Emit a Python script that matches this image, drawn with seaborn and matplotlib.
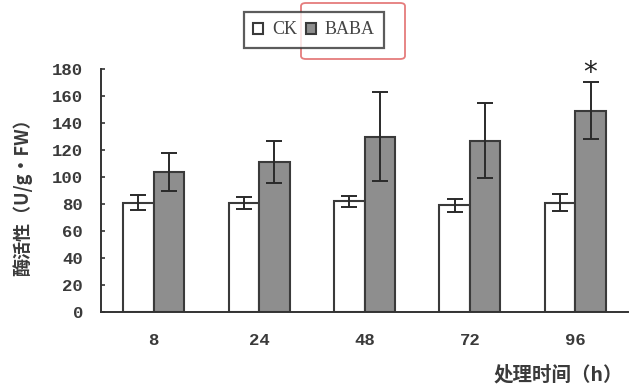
import matplotlib
matplotlib.use("Agg")
import matplotlib.pyplot as plt
from matplotlib.patches import FancyBboxPatch, Patch
import seaborn as sns
import pandas as pd
import numpy as np

# Enzyme activity (mean ± error) after treatment
times = ["8", "24", "48", "72", "96"]
groups = ["CK", "BABA"]
ck_mean = [81, 81, 82, 79, 81]
ck_err = [5.5, 4.5, 4, 5, 6.5]
baba_mean = [104, 111, 130, 127, 149]
baba_err = [14, 15.5, 33, 28, 21]
significant = ["", "", "", "", "*"]

sns.set_theme(style="white")
plt.rcParams["font.family"] = ["Liberation Mono", "Noto Sans CJK SC", "DejaVu Sans"]

df = pd.DataFrame({
    "time": times * 2,
    "group": [groups[0]] * len(times) + [groups[1]] * len(times),
    "value": ck_mean + baba_mean,
})

fig = plt.figure(figsize=(6.29, 3.88), dpi=100)
ax = fig.add_axes([101 / 629, 1 - 312 / 388, (628 - 101) / 629, (312 - 69) / 388])

palette = {"CK": "#ffffff", "BABA": "#8e8e8e"}
sns.barplot(data=df, x="time", y="value", hue="group", order=times,
            hue_order=groups, palette=palette, width=0.58, gap=0,
            edgecolor="#3a3a3a", linewidth=1.5, errorbar=None, legend=False, ax=ax)

# error bars placed on the bar centres
errs = {"CK": ck_err, "BABA": baba_err}
means = {"CK": ck_mean, "BABA": baba_mean}
for cont, g in zip(ax.containers, groups):
    xs = [p.get_x() + p.get_width() / 2 for p in cont.patches]
    ax.errorbar(xs, means[g], yerr=errs[g], fmt="none", ecolor="#2a2a2a",
                elinewidth=1.4, capsize=5.5, capthick=1.4, zorder=5)
    if g == "BABA":
        for x, m, e, s in zip(xs, means[g], errs[g], significant):
            if s:
                ax.text(x, m + e - 3, s, ha="center", va="bottom",
                        fontsize=20, color="#222222", family="DejaVu Sans")

ax.set_ylim(0, 180)
ax.set_xlim(-0.5, 4.5)
ax.set_yticks(np.arange(0, 181, 20))
ax.set_xticks(range(len(times)))
ax.set_xticklabels(times)
ax.set_xticks(np.arange(-0.5, 4.6, 1), minor=True)
ax.tick_params(axis="x", which="major", length=0, pad=15, labelsize=12.5, colors="#3a3a3a")
ax.tick_params(axis="x", which="minor", direction="in", length=3, width=1.2, color="#333333")
ax.tick_params(axis="y", direction="in", length=3, width=1.2, color="#333333",
               labelsize=12.5, labelcolor="#3a3a3a", left=True, pad=13)
for lbl in ax.get_xticklabels() + ax.get_yticklabels():
    lbl.set_fontweight("bold")
for side in ["top", "right"]:
    ax.spines[side].set_visible(False)
for side in ["left", "bottom"]:
    ax.spines[side].set_color("#333333")
    ax.spines[side].set_linewidth(1.4)

ax.set_xlabel("")
ax.set_ylabel("")
fig.text(22 / 629, 1 - 193 / 388, "酶活性（U/g·FW）", rotation=90, ha="center", va="center",
         fontsize=13, color="#3a3a3a", fontweight="bold",
         family=["Noto Sans CJK SC", "DejaVu Sans"])
fig.text(558 / 629, 1 - 375 / 388, "处理时间（h）", ha="center", va="center",
         fontsize=14, color="#3a3a3a", fontweight="bold",
         family=["Noto Sans CJK SC", "DejaVu Sans"])

handles = [Patch(facecolor=palette[g], edgecolor="#3a3a3a", linewidth=1.5) for g in groups]
leg = fig.legend(handles, groups, loc="center", bbox_to_anchor=(314 / 629, 1 - 30 / 388),
                 ncol=2, frameon=True, fancybox=False, edgecolor="#333333",
                 handlelength=0.55, handleheight=0.55, handletextpad=0.5, columnspacing=0.5,
                 borderpad=0.5, prop={"family": "Liberation Serif", "size": 13})
leg.get_frame().set_linewidth(1.6)
for t in leg.get_texts():
    t.set_color("#444444")

# red highlight box around the BABA legend entry
fig.patches.append(FancyBboxPatch((301 / 629, 1 - 59 / 388), 104 / 629, 56 / 388,
                                  boxstyle="round,pad=0,rounding_size=0.008",
                                  transform=fig.transFigure, fill=False,
                                  edgecolor="#e57c7c", linewidth=1.3))

fig.savefig("out.png", dpi=100)
